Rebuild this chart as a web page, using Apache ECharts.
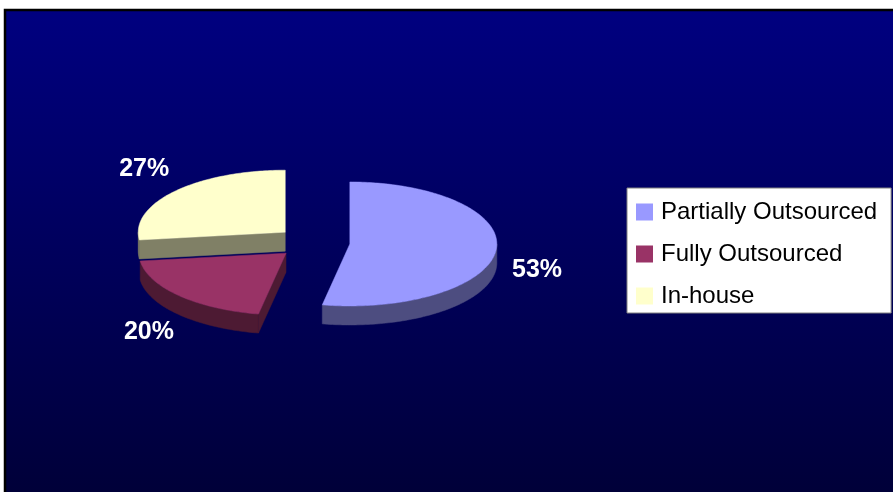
<!DOCTYPE html>
<html>
<head>
<meta charset="utf-8">
<script src="https://cdn.jsdelivr.net/npm/echarts@6/dist/echarts.min.js"></script>
<style>
  html, body { margin: 0; padding: 0; background: #fff; }
  #chart { width: 893px; height: 492px; }
</style>
</head>
<body>
<div id="chart"></div>
<script>
// ==================
// DATA
// ==================

const categories = ['Partially Outsourced', 'Fully Outsourced', 'In-house'];
const shares = [53, 20, 27];
const topColors = ['#9999FF', '#993366', '#FFFFCC'];
const sideColors = ['#4D4D80', '#4D1A33', '#808066'];

// ==================
// CONFIG (layout of the 3D pie)
// ==================

const pie = {
    cx: 313,
    cy: 242.5,
    rx: 147,
    ry: 62,
    depth: 19,
    explode: 37,
    labelRx: 188,
    labelRy: 106,
    labelDy: -20,
    labelSide: 36
};

const total = shares.reduce((s, v) => s + v, 0);
const startAngles = shares.map((v, i) =>
    shares.slice(0, i).reduce((s, x) => s + x, 0) / total * 360
);

const rad = d => d * Math.PI / 180;

// angle measured clockwise from 12 o'clock
function pt(ox, oy, deg, dy) {
    return [ox + pie.rx * Math.sin(rad(deg)), oy - pie.ry * Math.cos(rad(deg)) + (dy || 0)];
}

function arc(ox, oy, from, to, dy) {
    const pts = [];
    const steps = Math.max(2, Math.ceil(Math.abs(to - from)));
    for (let k = 0; k <= steps; k++) {
        pts.push(pt(ox, oy, from + (to - from) * k / steps, dy));
    }
    return pts;
}

function renderSlice(idx) {
    return function (params, api) {
        const value = api.value(0);
        const s = startAngles[idx];
        const e = s + value / total * 360;
        const mid = (s + e) / 2;
        const k = pie.ry / pie.rx;

        // exploded apex
        const ox = pie.cx + pie.explode * Math.sin(rad(mid));
        const oy = pie.cy - pie.explode * k * Math.cos(rad(mid));

        const children = [];
        const side = { fill: sideColors[idx], stroke: sideColors[idx], lineWidth: 0.5 };

        // outer rim (front half only)
        const lo = Math.max(s, 90);
        const hi = Math.min(e, 270);
        if (hi > lo) {
            const topArc = arc(ox, oy, lo, hi, 0);
            const botArc = arc(ox, oy, hi, lo, pie.depth);
            children.push({ type: 'polygon', shape: { points: topArc.concat(botArc) }, style: side });
        }

        // radial cut faces
        const radial = deg => {
            const p = pt(ox, oy, deg, 0);
            return [[ox, oy], p, [p[0], p[1] + pie.depth], [ox, oy + pie.depth]];
        };
        if (Math.cos(rad(s - 90)) < -0.01) {
            children.push({ type: 'polygon', shape: { points: radial(s) }, style: side });
        }
        if (Math.cos(rad(e + 90)) < -0.01) {
            children.push({ type: 'polygon', shape: { points: radial(e) }, style: side });
        }

        // top face
        children.push({
            type: 'polygon',
            shape: { points: [[ox, oy]].concat(arc(ox, oy, s, e, 0)) },
            style: { fill: topColors[idx], stroke: topColors[idx], lineWidth: 0.5 }
        });

        // percentage label
        children.push({
            type: 'text',
            x: ox + pie.labelRx * Math.sin(rad(mid)),
            y: oy - pie.labelRy * Math.cos(rad(mid)) + pie.labelDy + pie.labelSide * Math.abs(Math.sin(rad(mid))),
            style: {
                text: Math.round(value / total * 100) + '%',
                fill: '#ffffff',
                font: 'bold 25px "Liberation Sans", Arial, sans-serif',
                textAlign: 'center',
                textVerticalAlign: 'middle',
                align: 'center',
                verticalAlign: 'middle'
            }
        });

        return { type: 'group', children: children };
    };
}

// ==================
// CHART
// ==================

const chart = echarts.init(document.getElementById('chart'));

const option = {
    animation: false,
    backgroundColor: '#ffffff',
    graphic: [{
        type: 'rect',
        z: -10,
        silent: true,
        shape: { x: 5, y: 10, width: 900, height: 500 },
        style: {
            fill: new echarts.graphic.LinearGradient(0, 0, 0, 1, [
                { offset: 0, color: '#000080' },
                { offset: 1, color: '#000036' }
            ]),
            stroke: '#000000',
            lineWidth: 2.5
        }
    }],
    legend: {
        orient: 'vertical',
        left: 627,
        top: 188,
        data: categories,
        icon: 'rect',
        itemWidth: 17,
        itemHeight: 17,
        itemGap: 18,
        padding: [12, 14, 5, 9],
        backgroundColor: '#ffffff',
        borderColor: '#808080',
        borderWidth: 1,
        borderRadius: 0,
        selectedMode: false,
        textStyle: {
            color: '#000000',
            fontSize: 24,
            fontFamily: '"Liberation Sans", Arial, sans-serif',
            padding: [0, 0, 0, 3]
        }
    },
    series: categories.map((name, i) => ({
        name: name,
        type: 'custom',
        coordinateSystem: 'none',
        silent: true,
        itemStyle: { color: topColors[i] },
        renderItem: renderSlice(i),
        data: [[shares[i]]]
    }))
};

chart.setOption(option);
</script>
</body>
</html>
